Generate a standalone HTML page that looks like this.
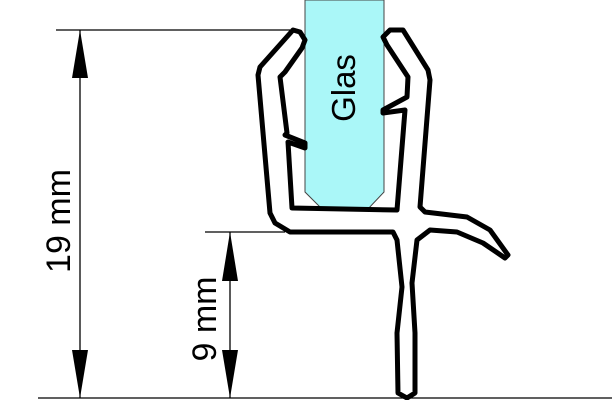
<!DOCTYPE html>
<html><head><meta charset="utf-8"><style>
html,body{margin:0;padding:0;background:#fff}
svg{display:block}
text{font-family:"Liberation Sans",Arial,sans-serif;fill:#000}
</style></head><body>
<svg width="612" height="400" viewBox="0 0 612 400">
<g>
<path d="M305,0 L384,0 L384,192 L367,210 L323,210 L305,192 Z" fill="#aaf7f8" stroke="#444" stroke-width="1"/>
<text x="0" y="0" font-size="33" text-anchor="middle" transform="translate(355,88) rotate(-90)">Glas</text>
</g>
<g stroke="#000" stroke-width="1.3" fill="none">
<line x1="56" y1="30" x2="290" y2="30"/>
<line x1="205" y1="232" x2="285" y2="232"/>
<line x1="38" y1="398" x2="612" y2="398"/>
<line x1="80" y1="30" x2="80" y2="398"/>
<line x1="230" y1="232" x2="230" y2="398"/>
</g>
<g fill="#000">
<path d="M80,30 L72,78 L88,78 Z"/>
<path d="M80,398 L72,350 L88,350 Z"/>
<path d="M230,232 L222,281 L238,281 Z"/>
<path d="M230,398 L222,350 L238,350 Z"/>
</g>
<text font-size="34" text-anchor="middle" transform="translate(70,221) rotate(-90)">19 mm</text>
<text font-size="34" text-anchor="middle" transform="translate(216,319) rotate(-90)">9 mm</text>
<path fill="none" stroke="#000" stroke-width="5" stroke-linejoin="round" stroke-linecap="round"
d="M293,30 L300,32 L305,40 L302,48 L285,72 L280,77 L287,133 L285,135 L305,143 L305,148 L288,142 L292,208 L397,210 L405,110 L383,113 L383,110 L407,97 L408,77 L387,45 L383,37 L390,30 L403,30 L428,70 L430,80 L420,207 L425,212 L467,217 L490,230 L508,255 L505,258 L483,243 L457,232 L430,230 L417,240 L412,283 L415,333 L415,393 L407,398 L398,393 L397,333 L402,287 L397,240 L393,232 L290,232 L275,223 L270,213 L258,75 L260,67 Z"/>
</svg>
</body></html>
